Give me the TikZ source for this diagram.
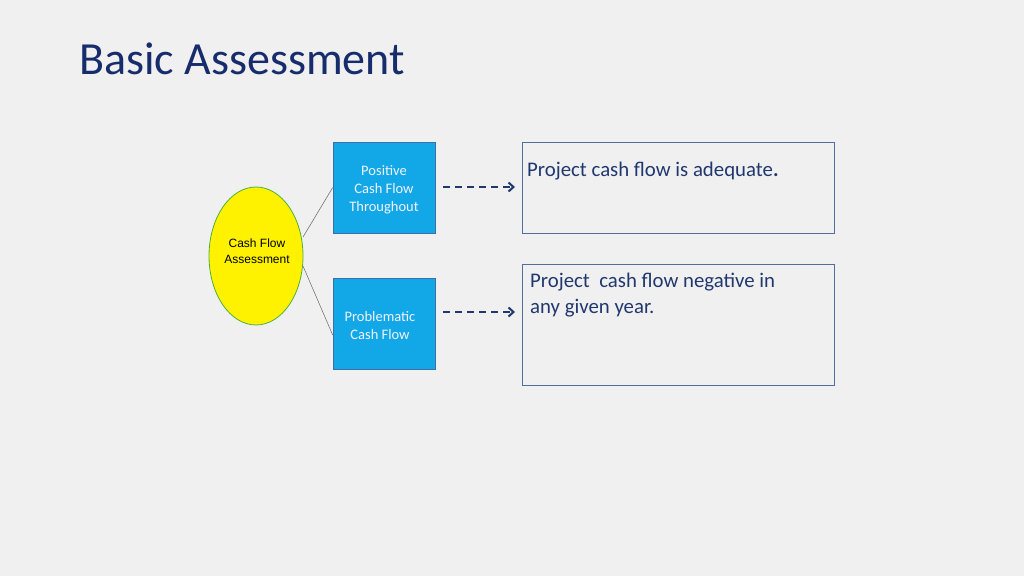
\documentclass[tikz,border=0pt]{standalone}
\usepackage{fontspec}
\setmainfont{Carlito}
\newfontfamily\arialf{Liberation Sans}
\usetikzlibrary{arrows.meta,shapes.geometric}
\definecolor{bgc}{RGB}{240,240,240}
\definecolor{navy}{RGB}{32,56,110}
\definecolor{titlec}{RGB}{22,44,108}
\definecolor{boxblue}{RGB}{18,168,232}
\definecolor{boxedge}{RGB}{60,110,170}
\definecolor{rbedge}{RGB}{80,110,160}
\definecolor{ellgreen}{RGB}{80,175,60}
\begin{document}
\begin{tikzpicture}[x=1pt,y=-1pt,
  bluebox/.style={draw=boxedge,fill=boxblue,line width=0.6pt,minimum width=102pt,minimum height=91pt,inner sep=0pt},
  boxtext/.style={font=\fontsize{14.5}{18}\selectfont,text=white!95!blue,align=center,inner sep=0pt},
  resbox/.style={draw=rbedge,line width=0.8pt,minimum width=312pt,inner sep=0pt,anchor=north west},
  restext/.style={text=navy,font=\fontsize{20.8}{25.5}\selectfont,align=left,anchor=base west,inner sep=0pt},
  link/.style={draw=gray!80!black,line width=0.5pt},
  darrow/.style={draw=navy,line width=1.6pt,dash pattern=on 7pt off 5pt,-{Straight Barb[length=5pt,width=9pt,line width=2pt]}}]
\useasboundingbox (0,0) rectangle (1024,576);
\fill[bgc] (0,0) rectangle (1024,576);
\node[anchor=base west,inner sep=0pt,text=titlec,font=\fontsize{46}{52}\selectfont] (title) at (79,74) {Basic Assessment};
\node[draw=ellgreen,fill=yellow,ellipse,line width=0.8pt,minimum width=94pt,minimum height=138pt,inner sep=0pt] (ell) at (256,256) {};
\node[font=\arialf\fontsize{12}{16}\selectfont,align=center,inner sep=0pt] (elltext) at (257,251) {Cash Flow\\Assessment};
\node[bluebox] (b1) at (384,187.5) {};
\node[bluebox] (b2) at (384,324) {};
\node[boxtext] (b1t) at (384,190) {Positive\\Cash Flow\\Throughout};
\node[boxtext] (b2t) at (380,325.5) {Problematic\\Cash Flow};
\node[resbox,minimum height=91pt] (r1) at (522,142) {};
\node[resbox,minimum height=121pt] (r2) at (522,264) {};
\node[restext] (t1) at (527,176.5) {Project cash flow is adequate\textbf{.}};
\node[restext] (t2) at (530,313) {Project\ \ cash flow negative in\\any given year.};
\coordinate (e1) at (303,237);
\coordinate (e2) at (303,266);
\draw[link] (e1) -- (b1.west);
\draw[link] (e2) -- ([yshift=-11pt]b2.west);
\coordinate (a1s) at (443,187);
\coordinate (a1e) at (515,187);
\coordinate (a2s) at (443,312);
\coordinate (a2e) at (515,312);
\draw[darrow] (a1s) -- (a1e);
\draw[darrow] (a2s) -- (a2e);
\end{tikzpicture}
\end{document}
